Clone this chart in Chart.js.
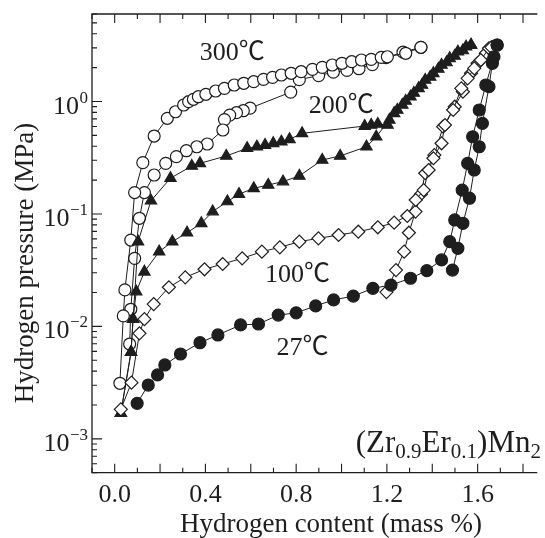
<!DOCTYPE html>
<html>
<head>
<meta charset="utf-8">
<script src="https://cdn.jsdelivr.net/npm/chart.js@4/dist/chart.umd.min.js"></script>
<style>
  html, body { margin: 0; padding: 0; background: #fff; overflow: hidden; }
  #wrap { width: 545px; height: 538px; }
  canvas { display: block; }
</style>
</head>
<body>
<div id="wrap"><canvas id="pctChart" width="545" height="538"></canvas></div>
<script>
// Tick values and labels
const xTicks = [0.0, 0.4, 0.8, 1.2, 1.6];
const xTickLabels = ['0.0', '0.4', '0.8', '1.2', '1.6'];
const yDecades = [1, 0.1, 0.01, 0.001];

// 300 C, open circles
const t300AbsX = [0.023, 0.038, 0.045, 0.071, 0.088, 0.124, 0.174, 0.232, 0.268, 0.304, 0.326, 0.347, 0.369, 0.402, 0.445, 0.484, 0.527, 0.569, 0.613, 0.656, 0.696, 0.735, 0.778, 0.822, 0.872, 0.915, 0.959, 1.002, 1.045, 1.088, 1.131, 1.175, 1.202, 1.283, 1.350];
const t300AbsP = [0.00312, 0.0124, 0.0211, 0.0586, 0.155, 0.286, 0.493, 0.709, 0.811, 0.931, 0.996, 1.046, 1.103, 1.159, 1.240, 1.310, 1.402, 1.452, 1.500, 1.575, 1.641, 1.720, 1.782, 1.841, 1.933, 2.014, 2.112, 2.187, 2.259, 2.339, 2.372, 2.471, 2.501, 2.684, 3.034];
const t300DesX = [1.350, 1.271, 1.196, 1.136, 1.077, 1.024, 0.964, 0.899, 0.814, 0.776, 0.597, 0.567, 0.537, 0.507, 0.484, 0.477, 0.408, 0.362, 0.316, 0.272, 0.225, 0.174, 0.131, 0.109, 0.088, 0.071, 0.066];
const t300DesP = [3.034, 2.744, 2.452, 2.129, 1.957, 1.890, 1.822, 1.699, 1.563, 1.212, 0.872, 0.828, 0.795, 0.757, 0.690, 0.558, 0.419, 0.396, 0.365, 0.323, 0.282, 0.222, 0.155, 0.0915, 0.0403, 0.0142, 0.00697];

// 200 C, filled triangles
const t200AbsX = [0.027, 0.072, 0.081, 0.103, 0.160, 0.246, 0.340, 0.376, 0.492, 0.584, 0.627, 0.663, 0.699, 0.735, 0.771, 0.826, 1.102, 1.131, 1.160, 1.203, 1.232, 1.268, 1.304, 1.340, 1.369, 1.405, 1.441, 1.477, 1.513, 1.549, 1.571];
const t200AbsP = [0.00169, 0.0059, 0.0116, 0.0567, 0.131, 0.208, 0.267, 0.282, 0.328, 0.384, 0.396, 0.410, 0.425, 0.439, 0.461, 0.521, 0.605, 0.618, 0.631, 0.618, 0.785, 0.931, 1.103, 1.310, 1.554, 1.782, 2.112, 2.422, 2.773, 3.072, 3.18];
const t200DesX = [1.571, 1.535, 1.499, 1.463, 1.427, 1.391, 1.355, 1.319, 1.283, 1.246, 1.211, 1.153, 1.110, 0.994, 0.915, 0.814, 0.742, 0.677, 0.613, 0.548, 0.497, 0.432, 0.382, 0.319, 0.254, 0.196, 0.131, 0.095, 0.081, 0.072, 0.027];
const t200DesP = [3.18, 2.842, 2.539, 2.223, 1.945, 1.652, 1.402, 1.190, 1.010, 0.840, 0.685, 0.486, 0.396, 0.328, 0.302, 0.218, 0.194, 0.181, 0.169, 0.150, 0.129, 0.105, 0.0826, 0.0681, 0.0567, 0.0462, 0.0306, 0.0204, 0.0116, 0.0059, 0.00169];

// 100 C, open diamonds
const t100AbsX = [0.027, 0.074, 0.109, 0.131, 0.172, 0.239, 0.311, 0.396, 0.476, 0.562, 0.649, 0.728, 0.814, 0.898, 0.987, 1.074, 1.160, 1.232, 1.290, 1.327, 1.362, 1.384, 1.405, 1.441, 1.456, 1.492, 1.528, 1.556, 1.585, 1.614, 1.650, 1.661];
const t100AbsP = [0.00183, 0.00316, 0.00868, 0.0116, 0.0158, 0.0223, 0.0273, 0.0322, 0.0359, 0.0403, 0.0462, 0.0505, 0.0567, 0.0607, 0.0650, 0.0695, 0.0761, 0.0836, 0.0959, 0.133, 0.163, 0.246, 0.313, 0.425, 0.618, 0.840, 1.310, 1.608, 1.973, 2.339, 2.973, 3.03];
const t100DesX = [1.661, 1.636, 1.600, 1.571, 1.535, 1.499, 1.448, 1.409, 1.369, 1.350, 1.326, 1.297, 1.276, 1.240, 1.198];
const t100DesP = [3.03, 2.684, 2.187, 1.782, 1.222, 0.899, 0.597, 0.334, 0.230, 0.150, 0.105, 0.0681, 0.0462, 0.0317, 0.0202];

// 27 C, filled circles
const t27AbsX = [0.099, 0.148, 0.189, 0.221, 0.290, 0.376, 0.455, 0.555, 0.634, 0.721, 0.800, 0.886, 0.965, 1.052, 1.138, 1.218, 1.304, 1.376, 1.441, 1.477, 1.499, 1.532, 1.556, 1.578, 1.607, 1.636, 1.672, 1.686];
const t27AbsP = [0.00207, 0.00301, 0.0037, 0.00454, 0.00568, 0.00716, 0.00839, 0.0103, 0.0105, 0.0126, 0.0132, 0.0152, 0.0172, 0.0186, 0.0218, 0.0233, 0.0268, 0.0313, 0.0390, 0.0567, 0.0884, 0.163, 0.282, 0.486, 0.840, 1.402, 2.50, 3.18];
const t27DesX = [1.686, 1.665, 1.650, 1.621, 1.607, 1.585, 1.564, 1.535, 1.513, 1.489];
const t27DesP = [3.18, 2.187, 1.354, 0.640, 0.396, 0.246, 0.138, 0.0826, 0.0495, 0.0317];

const ink = '#1e1e1e';
const serif = '"Liberation Serif", "Times New Roman", "Noto Sans CJK SC", serif';

function toPoints(xs, ps) {
    return xs.map((v, i) => ({ x: v, y: ps[i] }));
}

// One branch of an isotherm: thin black line plus markers
function branch(label, xs, ps, shape, filled, radius) {
    return {
        label: label,
        data: toPoints(xs, ps),
        borderColor: ink,
        borderWidth: 1,
        tension: 0,
        fill: false,
        pointStyle: shape,
        pointRadius: radius,
        pointBorderWidth: 1.2,
        pointBorderColor: ink,
        pointBackgroundColor: filled ? ink : '#ffffff'
    };
}

const datasets = [
    branch('27 abs', t27AbsX, t27AbsP, 'circle', true, 6),
    branch('27 des', t27DesX, t27DesP, 'circle', true, 6),
    branch('100 abs', t100AbsX, t100AbsP, 'rectRot', false, 6.5),
    branch('100 des', t100DesX, t100DesP, 'rectRot', false, 6.5),
    branch('200 abs', t200AbsX, t200AbsP, 'triangle', true, 6.5),
    branch('200 des', t200DesX, t200DesP, 'triangle', true, 6.5),
    branch('300 abs', t300AbsX, t300AbsP, 'circle', false, 6),
    branch('300 des', t300DesX, t300DesP, 'circle', false, 6)
];

// Frame, inward ticks, tick labels, titles and annotations
const paperAxes = {
    id: 'paperAxes',
    afterDraw(chart) {
        const { ctx, chartArea: a, scales: { x, y } } = chart;
        ctx.save();
        ctx.strokeStyle = ink;
        ctx.fillStyle = ink;

        // the right edge of the frame lies just outside the window
        ctx.lineWidth = 1.3;
        ctx.beginPath();
        ctx.moveTo(a.right, a.top);
        ctx.lineTo(a.left, a.top);
        ctx.lineTo(a.left, a.bottom);
        ctx.lineTo(a.right, a.bottom);
        ctx.stroke();

        ctx.lineWidth = 1.1;
        ctx.beginPath();
        for (let i = -1; i <= 19; i++) {
            if (i / 10 > x.max) break;
            const px = x.getPixelForValue(i / 10);
            const len = i % 2 === 0 ? 9 : 5;
            ctx.moveTo(px, a.bottom); ctx.lineTo(px, a.bottom - len);
            ctx.moveTo(px, a.top); ctx.lineTo(px, a.top + len);
        }
        for (let k = -4; k <= 0; k++) {
            for (let m = 1; m <= 9; m++) {
                const v = m * Math.pow(10, k);
                if (v < y.min || v > y.max) continue;
                const py = y.getPixelForValue(v);
                const len = m === 1 ? 10 : 5;
                ctx.moveTo(a.left, py); ctx.lineTo(a.left + len, py);
            }
        }
        ctx.stroke();

        // x tick labels
        ctx.font = '26px ' + serif;
        ctx.textAlign = 'center';
        ctx.textBaseline = 'alphabetic';
        xTicks.forEach((v, i) => {
            ctx.fillText(xTickLabels[i], x.getPixelForValue(v), 502);
        });

        // y tick labels as 10 with a raised exponent
        yDecades.forEach(v => {
            const py = y.getPixelForValue(v);
            const exp = String(Math.round(Math.log10(v))).replace('-', '\u2212');
            ctx.font = '17px ' + serif;
            const ew = ctx.measureText(exp).width;
            ctx.textAlign = 'left';
            ctx.fillText(exp, 88 - ew, py + 1);
            ctx.font = '26px ' + serif;
            ctx.textAlign = 'right';
            ctx.fillText('10', 88 - ew - 0.5, py + 12);
        });

        // axis titles
        ctx.font = '27px ' + serif;
        ctx.textAlign = 'center';
        ctx.fillText('Hydrogen content (mass %)', 331, 532);
        ctx.save();
        ctx.translate(33, 263);
        ctx.rotate(-Math.PI / 2);
        ctx.fillText('Hydrogen pressure (MPa)', 0, 0);
        ctx.restore();

        // temperature labels, anchored in data space
        ctx.font = '26px ' + serif;
        ctx.textAlign = 'left';
        const tempLabels = [
            ['300\u2103', 0.375, 2.34],
            ['200\u2103', 0.855, 0.795],
            ['100\u2103', 0.663, 0.025],
            ['27\u2103', 0.713, 0.00557]
        ];
        tempLabels.forEach(([t, vx, vy]) => {
            ctx.fillText(t, x.getPixelForValue(vx), y.getPixelForValue(vy));
        });

        // compound formula with subscripts, right aligned
        const parts = [['(Zr', false], ['0.9', true], ['Er', false], ['0.1', true], [')Mn', false], ['2', true]];
        const big = '31px ' + serif, small = '21px ' + serif;
        let total = 0;
        parts.forEach(([s, sub]) => { ctx.font = sub ? small : big; total += ctx.measureText(s).width; });
        let cx = 541 - total;
        parts.forEach(([s, sub]) => {
            ctx.font = sub ? small : big;
            ctx.fillText(s, cx, sub ? 458 : 451.5);
            cx += ctx.measureText(s).width;
        });
        ctx.restore();
    }
};

new Chart(document.getElementById('pctChart').getContext('2d'), {
    type: 'line',
    data: { datasets: datasets },
    options: {
        responsive: false,
        animation: false,
        devicePixelRatio: 1,
        layout: { padding: { left: 92, top: 14, right: 0, bottom: 65.3 } },
        plugins: { legend: { display: false }, tooltip: { enabled: false } },
        scales: {
            // the plot runs on to about 1.9 off-window; 1.863 lands on the window edge
            x: { type: 'linear', min: -0.1, max: 1.863, display: false },
            y: { type: 'logarithmic', min: 5e-4, max: 6, display: false }
        }
    },
    plugins: [paperAxes]
});
</script>
</body>
</html>
